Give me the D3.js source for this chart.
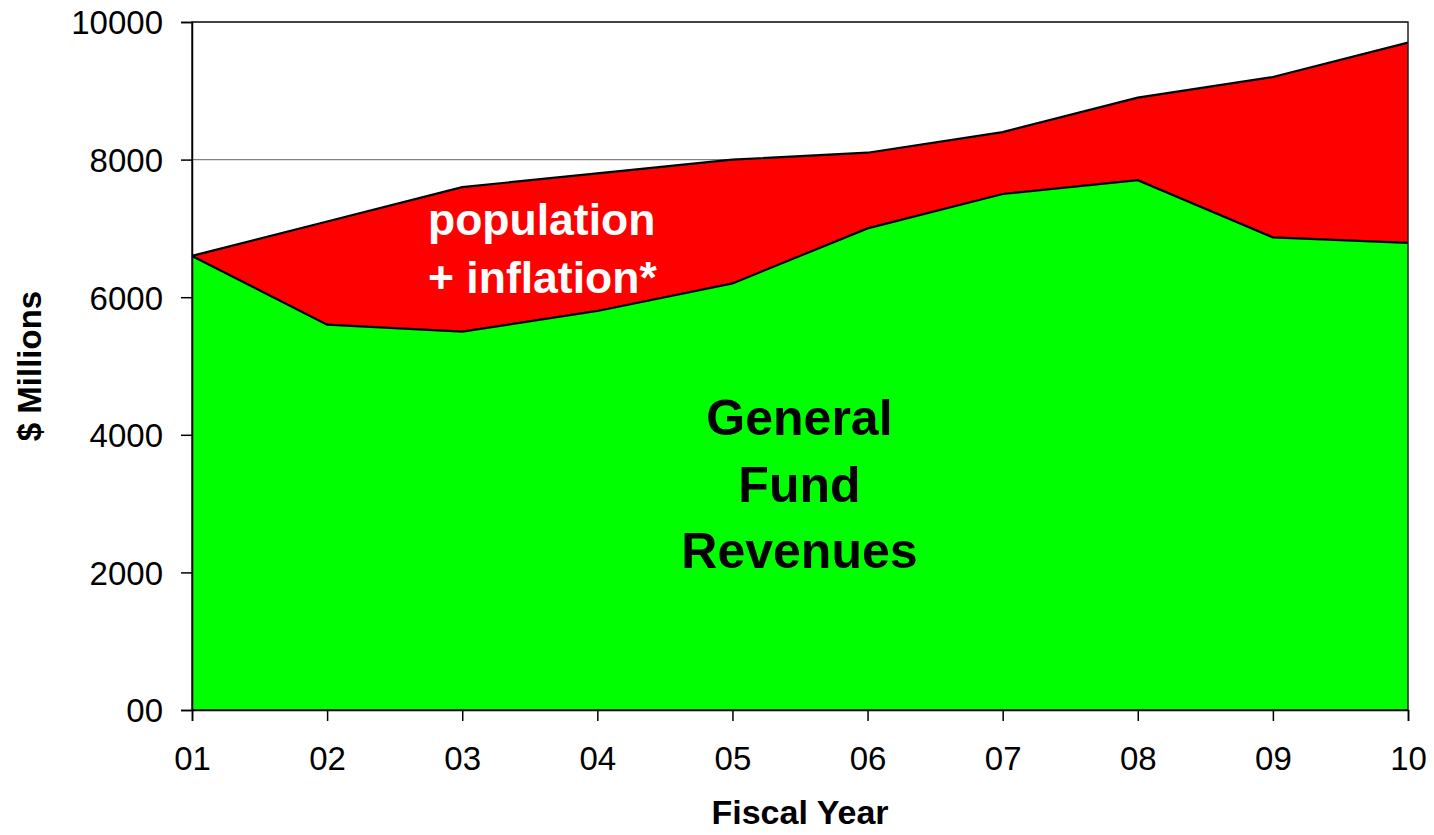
<!DOCTYPE html>
<html>
<head>
<meta charset="utf-8">
<script src="https://cdn.jsdelivr.net/npm/d3@7"></script>
<style>
  body { margin: 0; background: #fff; }
  svg text { font-family: "Liberation Sans", Arial, sans-serif; }
</style>
</head>
<body>
<div id="chart"></div>
<script>
// fiscal years and values ($ millions)
var years = ["01", "02", "03", "04", "05", "06", "07", "08", "09", "10"];
var generalFund = [6600, 5600, 5500, 5800, 6200, 7000, 7500, 7700, 6870, 6790];
var popInflation = [6600, 7100, 7600, 7800, 8000, 8100, 8400, 8900, 9200, 9700];
var yTicks = [0, 2000, 4000, 6000, 8000, 10000];
var yTickLabels = ["00", "2000", "4000", "6000", "8000", "10000"];

var W = 1434, H = 835;
var margin = {top: 22, right: 26, bottom: 125, left: 192};
var width = W - margin.left - margin.right,
    height = H - margin.top - margin.bottom;

var svg = d3.select("#chart").append("svg")
    .attr("width", W).attr("height", H);
var g = svg.append("g")
    .attr("transform", "translate(" + margin.left + "," + margin.top + ")");

var x = d3.scalePoint().domain(years).range([0, width]);
var y = d3.scaleLinear().domain([0, 10000]).range([height, 0]);

// gridlines (behind areas)
g.append("g").selectAll("line")
    .data(yTicks.slice(1))
    .enter().append("line")
    .attr("x1", 0).attr("x2", width)
    .attr("y1", function(d) { return y(d); })
    .attr("y2", function(d) { return y(d); })
    .attr("stroke", "#808080").attr("stroke-width", 1.3);

var rows = years.map(function(yr, i) {
    return {year: yr, gf: generalFund[i], total: popInflation[i]};
});

var areaTop = d3.area()
    .x(function(d) { return x(d.year); })
    .y0(function(d) { return y(d.gf); })
    .y1(function(d) { return y(d.total); });
var areaGf = d3.area()
    .x(function(d) { return x(d.year); })
    .y0(y(0))
    .y1(function(d) { return y(d.gf); });
var line = function(key) {
    return d3.line()
        .x(function(d) { return x(d.year); })
        .y(function(d) { return y(d[key]); });
};

g.append("path").datum(rows).attr("d", areaTop).attr("fill", "#ff0000");
g.append("path").datum(rows).attr("d", areaGf).attr("fill", "#00ff00");
g.append("path").datum(rows).attr("d", line("total"))
    .attr("fill", "none").attr("stroke", "#000").attr("stroke-width", 2.2);
g.append("path").datum(rows).attr("d", line("gf"))
    .attr("fill", "none").attr("stroke", "#000").attr("stroke-width", 2.2);

// plot frame
g.append("rect")
    .attr("x", 0).attr("y", 0).attr("width", width).attr("height", height)
    .attr("fill", "none").attr("stroke", "#222").attr("stroke-width", 1.5);

// axes
var yAxis = g.append("g")
    .call(d3.axisLeft(y).tickValues(yTicks)
        .tickFormat(function(d, i) { return yTickLabels[i]; })
        .tickSize(11).tickPadding(18));
var xAxis = g.append("g")
    .attr("transform", "translate(0," + height + ")")
    .call(d3.axisBottom(x).tickSize(11).tickPadding(26));
[xAxis, yAxis].forEach(function(a) {
    a.attr("font-size", null).attr("font-family", null);
    a.select(".domain").attr("stroke", "#000").attr("stroke-width", 1.5);
    a.selectAll(".tick line").attr("stroke", "#000").attr("stroke-width", 1.5);
    a.selectAll(".tick text").attr("fill", "#000")
        .style("font-size", "33px");
});
yAxis.selectAll(".tick text").attr("dy", "0.36em");

// axis titles
svg.append("text")
    .attr("transform", "translate(41," + (margin.top + height / 2) + ") rotate(-90)")
    .attr("text-anchor", "middle")
    .style("font-size", "33px").style("font-weight", "bold")
    .text("$ Millions");
svg.append("text")
    .attr("x", margin.left + width / 2).attr("y", 824)
    .attr("text-anchor", "middle")
    .style("font-size", "34px").style("font-weight", "bold")
    .text("Fiscal Year");

// in-area labels
var t1 = g.append("text")
    .attr("text-anchor", "middle")
    .style("font-size", "50px").style("font-weight", "bold").attr("fill", "#000");
["General", "Fund", "Revenues"].forEach(function(s, i) {
    t1.append("tspan").attr("x", x("05") + 67).attr("y", 435 - margin.top + i * 66.5).text(s);
});
var t2 = g.append("text")
    .style("font-size", "44.5px").style("font-weight", "bold").attr("fill", "#fff");
["population", "+ inflation*"].forEach(function(s, i) {
    t2.append("tspan").attr("x", 428 - margin.left).attr("y", 235 - margin.top + i * 58).text(s);
});
</script>
</body>
</html>
